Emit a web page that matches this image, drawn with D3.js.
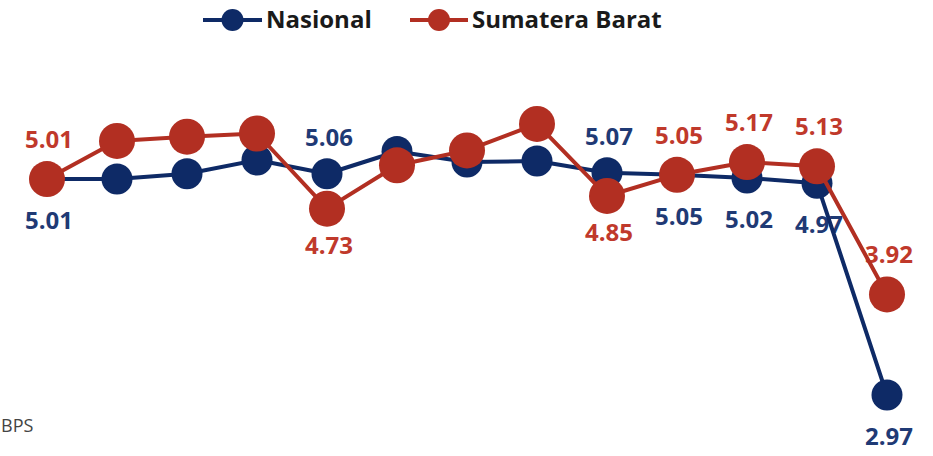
<!DOCTYPE html>
<html>
<head>
<meta charset="utf-8">
<script src="https://cdn.jsdelivr.net/npm/d3@7"></script>
<style>
  html, body { margin: 0; padding: 0; background: #ffffff; }
  svg { display: block; }
</style>
</head>
<body>
<svg id="chart" width="933" height="456"></svg>
<script>
// Quarterly economic growth (%), y-on-y
const quarters = ["I-2017", "II-2017", "III-2017", "IV-2017",
                  "I-2018", "II-2018", "III-2018", "IV-2018",
                  "I-2019", "II-2019", "III-2019", "IV-2019", "I-2020"];
const nasional = [5.01, 5.01, 5.06, 5.19, 5.06, 5.27, 5.17, 5.18, 5.07, 5.05, 5.02, 4.97, 2.97];
const sumbar   = [5.01, 5.37, 5.41, 5.44, 4.73, 5.14, 5.28, 5.53, 4.85, 5.05, 5.17, 5.13, 3.92];
// which points carry a value label, and on which side
const nasionalLabels = ["below", null, null, null, "above", null, null, null, "above", "below", "below", "below", "below"];
const sumbarLabels   = ["above", null, null, null, "below", null, null, null, "below", "above", "above", "above", "above"];
const seriesNames = ["Nasional", "Sumatera Barat"];
const source = "BPS";

const svg = d3.select("#chart");
const x = d3.scalePoint().domain(quarters).range([47, 887]);
const y = d3.scaleLinear().domain([2.5, 6.0]).range([444.8, 74.2]);

const series = [
  { name: seriesNames[0], values: nasional, labels: nasionalLabels,
    line: "#0e2a66", text: "#1f3a75", r: 15.5, above: -28, below: 50 },
  { name: seriesNames[1], values: sumbar, labels: sumbarLabels,
    line: "#b22f22", text: "#c0392b", r: 18, above: -31, below: 45 }
];

const font = "'Open Sans', 'Noto Sans', sans-serif";

// value labels sit beneath the lines
const labelLayer = svg.append("g");
series.forEach(s => {
  labelLayer.selectAll(null)
    .data(quarters.map((q, i) => ({ q, v: s.values[i], side: s.labels[i] })).filter(d => d.side))
    .join("text")
    .attr("x", d => x(d.q) + 2)
    .attr("y", d => y(d.v) + (d.side === "above" ? s.above : s.below))
    .attr("text-anchor", "middle")
    .attr("font-family", font)
    .attr("font-weight", 700)
    .attr("font-size", 24)
    .attr("fill", s.text)
    .text(d => d.v.toFixed(2));
});

const line = d3.line().x((d, i) => x(quarters[i])).y(d => y(d));

series.forEach(s => {
  const g = svg.append("g");
  g.append("path")
    .datum(s.values)
    .attr("d", line)
    .attr("fill", "none")
    .attr("stroke", s.line)
    .attr("stroke-width", 4)
    .attr("stroke-linejoin", "round");
  g.selectAll("circle")
    .data(s.values)
    .join("circle")
    .attr("cx", (d, i) => x(quarters[i]))
    .attr("cy", d => y(d))
    .attr("r", s.r)
    .attr("fill", s.line);
});

// legend
const legendItems = [
  { s: series[0], x0: 203, x1: 262, tx: 266 },
  { s: series[1], x0: 410, x1: 468, tx: 472 }
];
const legend = svg.append("g");
legendItems.forEach(it => {
  legend.append("line")
    .attr("x1", it.x0).attr("x2", it.x1)
    .attr("y1", 20).attr("y2", 20)
    .attr("stroke", it.s.line).attr("stroke-width", 4);
  legend.append("circle")
    .attr("cx", (it.x0 + it.x1) / 2).attr("cy", 20)
    .attr("r", 11).attr("fill", it.s.line);
  legend.append("text")
    .attr("x", it.tx).attr("y", 28)
    .attr("font-family", font)
    .attr("font-weight", 700)
    .attr("font-size", 24)
    .attr("fill", "#1a1a1a")
    .text(it.s.name);
});

// source note
svg.append("text")
  .attr("x", 1).attr("y", 432)
  .attr("text-anchor", "start")
  .attr("font-family", font)
  .attr("font-size", 18)
  .attr("fill", "#444")
  .text(source);
</script>
</body>
</html>
